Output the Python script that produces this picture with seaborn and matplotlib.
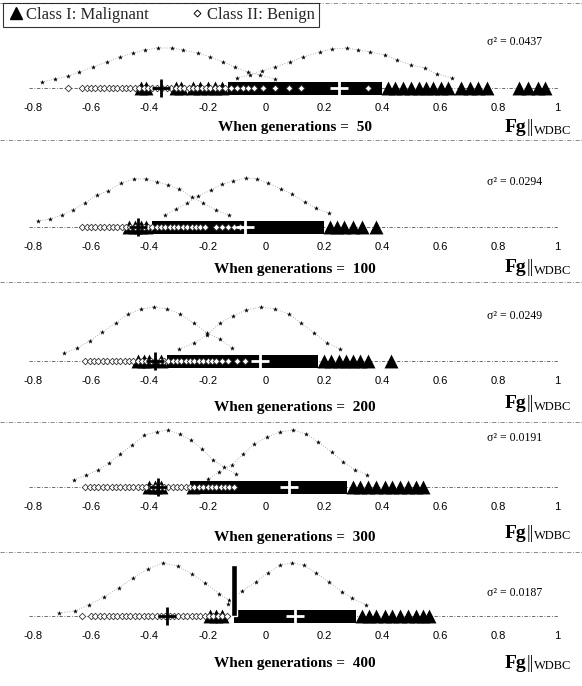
import numpy as np
import matplotlib
matplotlib.use("Agg")
import matplotlib.pyplot as plt
from matplotlib.lines import Line2D
import seaborn as sns

sns.set_theme(style="white")
plt.rcParams["font.family"] = ["Liberation Serif", "DejaVu Serif"]

# ─── Data ─────────────────────────────────────────────────────────────────────
GENERATIONS = [50, 100, 200, 300, 400]
VARIANCES = ["0.0437", "0.0294", "0.0249", "0.0191", "0.0187"]
TICKS = [-0.8, -0.6, -0.4, -0.2, 0, 0.2, 0.4, 0.6, 0.8, 1]
TICK_LABELS = ["-0.8", "-0.6", "-0.4", "-0.2", "0", "0.2", "0.4", "0.6", "0.8", "1"]

# benign samples (open diamonds)
BEN_50 = [-0.68, -0.63, -0.615, -0.60, -0.585, -0.57, -0.555, -0.54, -0.525, -0.51, -0.495,
          -0.48, -0.465, -0.45, -0.435, -0.42, -0.405, -0.39, -0.375, -0.355, -0.34, -0.325,
          -0.31, -0.295, -0.28, -0.265, -0.25, -0.235, -0.22, -0.205, -0.19, -0.175, -0.16,
          -0.14, -0.12, -0.10, -0.08, -0.06, -0.04, -0.01, 0.03, 0.08, 0.12, 0.35]
BEN_100 = [-0.63, -0.615, -0.60, -0.585, -0.57, -0.555, -0.54, -0.525, -0.51, -0.495, -0.48,
           -0.465, -0.45, -0.435, -0.42, -0.405, -0.39, -0.375, -0.36, -0.345, -0.33, -0.315,
           -0.30, -0.285, -0.27, -0.255, -0.24, -0.225, -0.21, -0.17, -0.15, -0.13, -0.11,
           -0.09, -0.07]
BEN_200 = [-0.62, -0.605, -0.59, -0.575, -0.56, -0.545, -0.53, -0.515, -0.50, -0.485, -0.47,
           -0.455, -0.44, -0.425, -0.41, -0.395, -0.38, -0.365, -0.35, -0.335, -0.32, -0.305,
           -0.29, -0.275, -0.26, -0.245, -0.23, -0.215, -0.20, -0.185, -0.17, -0.15, -0.13,
           -0.10, -0.07]
BEN_300 = [-0.62, -0.605, -0.59, -0.575, -0.56, -0.545, -0.53, -0.515, -0.50, -0.485, -0.47,
           -0.455, -0.44, -0.425, -0.41, -0.395, -0.38, -0.365, -0.35, -0.335, -0.32, -0.305,
           -0.29, -0.275, -0.26, -0.245, -0.23, -0.215, -0.20, -0.185, -0.17, -0.155, -0.14,
           -0.125, -0.11]
BEN_400 = [-0.63, -0.60, -0.585, -0.57, -0.555, -0.54, -0.525, -0.51, -0.495, -0.48, -0.465,
           -0.45, -0.435, -0.42, -0.405, -0.39, -0.375, -0.36, -0.345, -0.33, -0.315, -0.30,
           -0.285, -0.27, -0.255, -0.24, -0.225, -0.21, -0.195, -0.18, -0.165, -0.15, -0.135]

# malignant samples (filled triangles) outside the solid dense run
MAL_50 = [-0.43, -0.41, -0.31, -0.29, -0.25, -0.225, -0.20, -0.175, -0.15, 0.42, 0.445,
          0.47, 0.50, 0.525, 0.55, 0.575, 0.60, 0.625, 0.67, 0.70, 0.73, 0.76, 0.87, 0.90,
          0.935, 0.96]
MAL_100 = [-0.47, -0.45, -0.43, -0.41, 0.22, 0.245, 0.27, 0.30, 0.33, 0.38]
MAL_200 = [-0.44, -0.42, -0.40, -0.36, 0.20, 0.225, 0.25, 0.275, 0.30, 0.325, 0.35, 0.43]
MAL_300 = [-0.40, -0.38, -0.36, -0.25, 0.30, 0.325, 0.35, 0.38, 0.41, 0.435, 0.46, 0.49,
           0.515, 0.54]
MAL_400 = [-0.19, -0.17, -0.15, 0.33, 0.355, 0.38, 0.41, 0.435, 0.46, 0.49, 0.515, 0.54,
           0.56]
# dense malignant run (start, end)
MAL_RUN = [(-0.13, 0.40), (-0.39, 0.20), (-0.34, 0.18), (-0.26, 0.28), (-0.11, 0.31)]
# tall spike at generation 400
SPIKE_X = [-0.11]
SPIKE_H = [51]

BEN_MEAN = [-0.36, -0.44, -0.38, -0.37, -0.34]
MAL_MEAN = [0.25, -0.07, -0.02, 0.08, 0.10]

# fitted normal curves (x, height above axis)
BEN_CX = [
    [-0.77, -0.724, -0.68, -0.64, -0.594, -0.546, -0.50, -0.456, -0.415, -0.37, -0.322, -0.285,
     -0.233, -0.19, -0.147, -0.106, -0.061, -0.02, 0.03],
    [-0.784, -0.74, -0.70, -0.663, -0.622, -0.58, -0.543, -0.496, -0.452, -0.412, -0.374,
     -0.335, -0.297, -0.253, -0.215, -0.172, -0.128],
    [-0.692, -0.647, -0.605, -0.561, -0.516, -0.473, -0.427, -0.383, -0.338, -0.295, -0.247,
     -0.202, -0.158, -0.116],
    [-0.66, -0.617, -0.576, -0.538, -0.50, -0.459, -0.417, -0.375, -0.336, -0.296, -0.257,
     -0.219, -0.181, -0.145, -0.104],
    [-0.709, -0.657, -0.608, -0.557, -0.505, -0.457, -0.406, -0.354, -0.303, -0.254, -0.208,
     -0.16, -0.126],
]
BEN_CY = [
    [6, 9, 12, 16, 21, 26, 31, 35, 38, 40, 40, 38, 35, 31, 26, 21, 16, 13, 9],
    [6, 8, 12, 17, 24, 32, 36, 44, 48, 48, 45, 42, 38, 30, 24, 17, 12],
    [8, 13, 20, 29, 38, 47, 52, 54, 52, 47, 38, 28, 22, 13],
    [7, 12, 17, 24, 33, 42, 52, 55, 57, 53, 47, 38, 27, 20, 13],
    [3, 5, 11, 19, 28, 38, 47, 53, 50, 42, 33, 22, 16],
]
MAL_CX = [
    [-0.10, -0.055, -0.013, 0.03, 0.083, 0.128, 0.186, 0.227, 0.28, 0.317, 0.358, 0.41, 0.45,
     0.50, 0.547, 0.588, 0.64],
    [-0.346, -0.308, -0.27, -0.232, -0.188, -0.15, -0.111, -0.068, -0.03, 0.009, 0.052, 0.09,
     0.134, 0.172, 0.216],
    [-0.297, -0.247, -0.202, -0.158, -0.113, -0.068, -0.018, 0.031, 0.078, 0.122, 0.167, 0.211,
     0.256],
    [-0.20, -0.161, -0.117, -0.078, -0.04, 0.005, 0.049, 0.094, 0.139, 0.18, 0.226, 0.266,
     0.307, 0.349],
    [-0.13, -0.082, -0.034, 0.006, 0.05, 0.09, 0.131, 0.171, 0.217, 0.263, 0.297, 0.343],
]
MAL_CY = [
    [10, 13, 17, 21, 26, 31, 36, 39, 40, 38, 36, 33, 28, 23, 20, 14, 10],
    [12, 18, 24, 31, 37, 43, 46, 49, 48, 44, 38, 33, 25, 19, 14],
    [12, 18, 26, 38, 45, 51, 54, 52, 47, 38, 28, 18, 12],
    [8, 15, 22, 33, 43, 50, 55, 57, 53, 45, 35, 25, 17, 12],
    [12, 25, 34, 43, 51, 53, 51, 43, 34, 24, 18, 11],
]

BEN = [BEN_50, BEN_100, BEN_200, BEN_300, BEN_400]
MAL = [MAL_50, MAL_100, MAL_200, MAL_300, MAL_400]

# ─── Layout (pixels in a 582x686 canvas) ──────────────────────────────────────
W, H = 582, 686
BASELINE = [88, 227, 361, 487, 616]
SIGMA_UP = [46, 45, 45, 49, 23]
CAPTION_DOWN = [40, 43, 47, 51, 47]
FG_DOWN = [40, 41, 43, 46, 47]
SEPARATORS = [3, 140, 282, 422, 552]
XMIN, XMAX = -0.913, 1.086

fig = plt.figure(figsize=(W / 100, H / 100), dpi=100)
fig.patch.set_facecolor("white")

for i, gen in enumerate(GENERATIONS):
    b = BASELINE[i]
    ax = fig.add_axes([0, 1 - (b + 12) / H, 1, 77 / H])
    ax.set_xlim(XMIN, XMAX)
    ax.set_ylim(-12, 65)
    ax.patch.set_alpha(0)
    for s in ax.spines.values():
        s.set_visible(False)
    ax.set_yticks([])
    ax.set_xticks(TICKS)
    ax.set_xticklabels(TICK_LABELS, fontfamily="Liberation Sans", fontsize=8)
    ax.tick_params(axis="x", length=0, pad=2, colors="black")
    ax.grid(False)

    # dashed axis line
    ax.axhline(0, xmin=0.05, xmax=0.96, color="#555555", lw=0.6, ls=(0, (4, 2, 1, 2)), zorder=1)

    # fitted normal curves
    for cx, cy in ((BEN_CX[i], BEN_CY[i]), (MAL_CX[i], MAL_CY[i])):
        sns.lineplot(x=cx, y=cy, ax=ax, sort=False, color="#9a9a9a", lw=0.6,
                     linestyle=(0, (1, 2)), zorder=2)
        sns.scatterplot(x=cx, y=cy, ax=ax, marker="*", s=14, color="black",
                        linewidth=0, zorder=3)

    # dense malignant run
    x0, x1 = MAL_RUN[i]
    ax.fill_between([x0, x1], -7, 6, color="black", lw=0, zorder=4)
    # malignant triangles
    sns.scatterplot(x=MAL[i], y=[0] * len(MAL[i]), ax=ax, marker="^", s=100,
                    color="black", edgecolor="black", linewidth=0, zorder=4)
    if i == 4:
        ax.bar(SPIKE_X, SPIKE_H, width=0.022, color="black", zorder=4)

    # benign diamonds
    sns.scatterplot(x=BEN[i], y=[0] * len(BEN[i]), ax=ax, marker="D", s=11,
                    facecolor="white", edgecolor="#333333", linewidth=0.6, zorder=5)

    # class means
    sns.scatterplot(x=[BEN_MEAN[i]], y=[0], ax=ax, marker="+", s=170, color="black",
                    linewidth=2, zorder=6)
    sns.scatterplot(x=[MAL_MEAN[i]], y=[0], ax=ax, marker="+", s=170, color="white",
                    linewidth=2, zorder=6)

    # annotations
    ax.text(0.855, SIGMA_UP[i], f"σ² = {VARIANCES[i]}", ha="center", va="center",
            fontsize=8.5, color="black")
    ax.text(0.10, -CAPTION_DOWN[i], f"When generations =  {gen}", ha="center",
            va="center", fontsize=11, fontweight="bold", color="black")
    ax.text(0.822, -FG_DOWN[i], "Fg", ha="left", va="center", fontsize=14,
            fontweight="bold", color="black")
    ax.text(0.897, -FG_DOWN[i], "||", ha="left", va="center", fontsize=13,
            color="black")
    ax.text(0.922, -FG_DOWN[i] - 3, "WDBC", ha="left", va="center", fontsize=9,
            color="black")

# panel separators
for y in SEPARATORS:
    fig.add_artist(Line2D([0, 1], [1 - y / H, 1 - y / H], color="#777777", lw=0.6,
                          ls=(0, (5, 2, 1, 2))))

# legend
handles = [
    Line2D([], [], marker="^", color="black", ls="", markersize=9),
    Line2D([], [], marker="D", markerfacecolor="white", markeredgecolor="black", ls="",
           markersize=3.5, markeredgewidth=0.7),
]
leg = fig.legend(handles, ["Class I: Malignant", "Class II: Benign"], ncol=2,
                 loc="upper left", bbox_to_anchor=(0.006, 1 - 3 / H), fontsize=12,
                 frameon=True, fancybox=False, handletextpad=0.1, columnspacing=2.4,
                 handlelength=1.0, borderpad=0.25, borderaxespad=0)
leg.get_frame().set_edgecolor("black")
leg.get_frame().set_linewidth(0.8)

fig.savefig("out.png", dpi=100)
